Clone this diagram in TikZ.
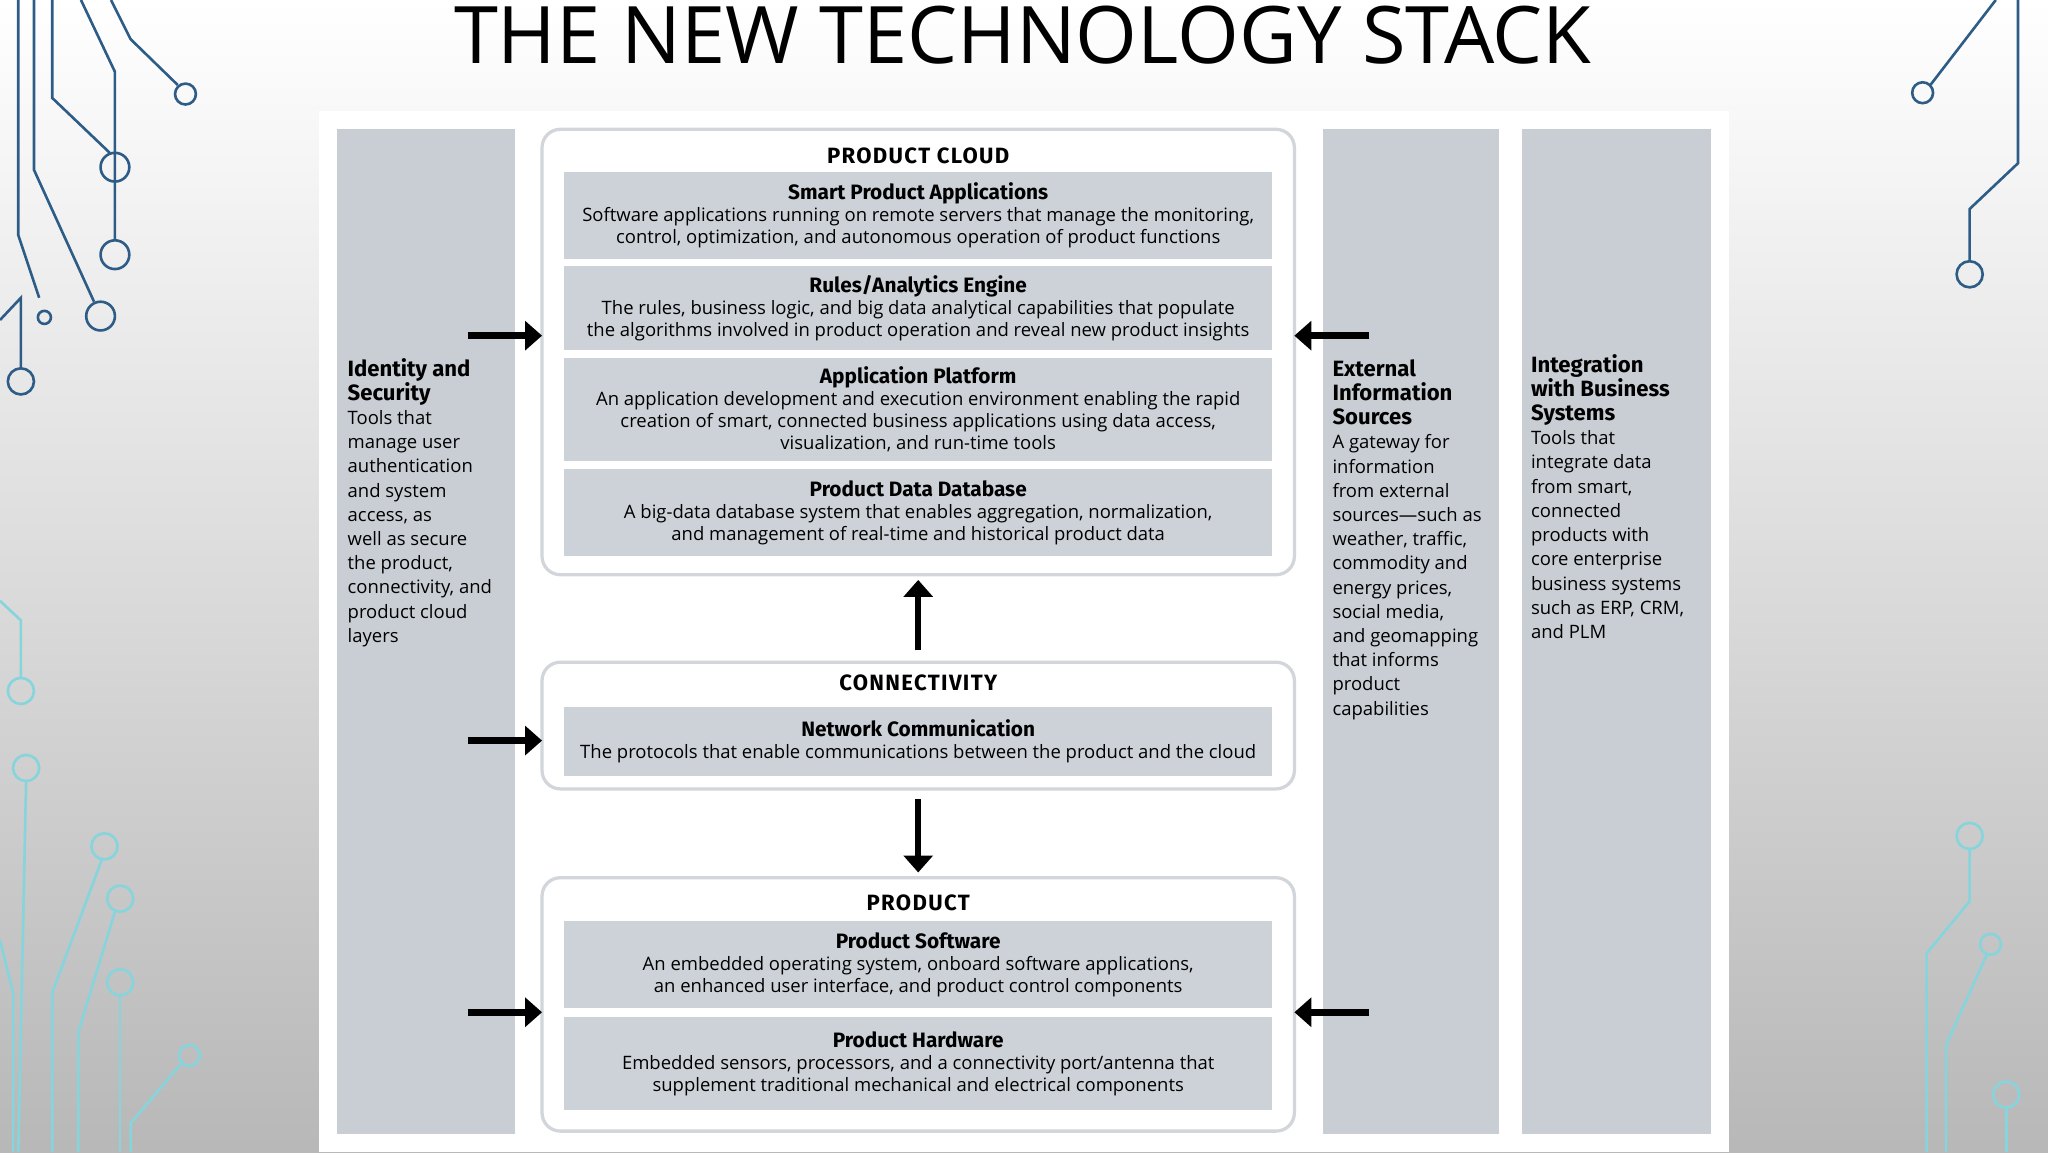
\documentclass[tikz,border=0pt]{standalone}
\usepackage{fontspec}
\setmainfont{Open Sans}
\newfontfamily\hfont{Fira Sans}
\usetikzlibrary{arrows.meta}
\definecolor{colgray}{HTML}{C9CED5}
\definecolor{boxgray}{HTML}{CDD2D9}
\definecolor{bordgray}{HTML}{D2D6DA}
\definecolor{darkc}{HTML}{2D5C86}
\definecolor{cyanc}{HTML}{86D4DC}
\newcommand{\colhd}[1]{{\hfont\bfseries\fontsize{17}{18.5}\selectfont #1}}
\newcommand{\ihd}[1]{{\hfont\bfseries\fontsize{16}{17}\selectfont #1}}
\newcommand{\ohd}[1]{{\hfont\bfseries\fontsize{17}{19}\selectfont\addfontfeature{LetterSpace=6} #1}}
\tikzset{
 ibox/.style={fill=boxgray,minimum width=542bp,inner sep=0pt,align=center,font=\fontsize{14.2}{17}\selectfont},
 obox/.style={draw=bordgray,line width=2.5bp,fill=white,rounded corners=14bp},
 col/.style={fill=colgray,draw=none},
 bigarrow/.style={line width=5bp,-{Triangle[length=13bp,width=22bp]}},
 ctext/.style={anchor=north west,align=left,inner sep=0pt,font=\fontsize{14.2}{18.6}\selectfont},
 circ/.style={line width=2bp},
}
\begin{document}
\begin{tikzpicture}[x=1bp,y=-1bp]
\useasboundingbox (0,0) rectangle (1568,882);
\shade[top color=white,bottom color=black!28] (0,0) rectangle (1568,882);
% circuits
\begin{scope}[draw=darkc,circ]
\draw (14,0)--(14,180)--(30,228); \draw (34,243) circle (5);
\draw (26,0)--(26,130)--(72,231); \draw (77,242) circle (11);
\draw (40,0)--(40,75)--(84,117); \draw (88,128) circle (11);
\draw (62,0)--(88,55)--(88,184); \draw (88,195) circle (11);
\draw (85,0)--(100,30)--(136,65); \draw (142,72) circle (8);
\draw (0,245)--(16,228)--(16,282); \draw (16,292) circle (10);
\draw (1528,0)--(1478,65); \draw (1472,71) circle (8);
\draw (1545,0)--(1545,125)--(1508,160)--(1508,199); \draw (1508,210) circle (10);
\end{scope}
\begin{scope}[draw=cyanc,circ]
\draw (0,460)--(16,475)--(16,519); \draw (16,529) circle (10);
\draw (20,598)--(14,882); \draw (20,588) circle (10);
\draw (78,658)--(40,760)--(40,882); \draw (80,648) circle (10);
\draw (88,698)--(60,790)--(60,882); \draw (92,688) circle (10);
\draw (92,762)--(92,882); \draw (92,752) circle (10);
\draw (139,814)--(100,860)--(100,882); \draw (145,808) circle (8);
\draw (0,720)--(10,760)--(10,882);
\draw (1508,650)--(1508,690)--(1475,730)--(1475,882); \draw (1508,640) circle (10);
\draw (1521,731)--(1490,800)--(1490,882); \draw (1524,723) circle (8);
\draw (1536,848)--(1536,882); \draw (1536,838) circle (10);
\end{scope}
\node (title) at (783,27) {\fontsize{61}{61}\selectfont THE NEW TECHNOLOGY STACK};
\fill[white] (244,85) rectangle (1324,882);
% columns
\fill[col] (258,99) rectangle (394,868);
\fill[col] (1013,99) rectangle (1148,868);
\fill[col] (1165,99) rectangle (1310,868);
\node[ctext] (ids) at (266,274) {\colhd{Identity and}\\\colhd{Security}\\Tools that\\manage user\\authentication\\and system\\access, as\\well as secure\\the product,\\connectivity, and\\product cloud\\layers};
\node[ctext] (ext) at (1020,275) {\colhd{External}\\\colhd{Information}\\\colhd{Sources}\\A gateway for\\information\\from external\\sources—such as\\weather, traffic,\\commodity and\\energy prices,\\social media,\\and geomapping\\that informs\\product\\capabilities};
\node[ctext] (integ) at (1172,271) {\colhd{Integration}\\\colhd{with Business}\\\colhd{Systems}\\Tools that\\integrate data\\from smart,\\connected\\products with\\core enterprise\\business systems\\such as ERP, CRM,\\and PLM};
% outer boxes
\draw[obox] (415,99) rectangle (991,440);
\node (cloud) at (703,119) {\ohd{PRODUCT CLOUD}};
\draw[obox] (415,507) rectangle (991,604);
\node (conn) at (703,523) {\ohd{CONNECTIVITY}};
\draw[obox] (415,672) rectangle (991,866);
\node (prod) at (703,691) {\ohd{PRODUCT}};
\coordinate (cloudbot) at (703,444);
\coordinate (prodtop) at (703,668);
% inner boxes
\node[ibox,minimum height=66bp] (spa) at (703,165) {\ihd{Smart Product Applications}\\Software applications running on remote servers that manage the monitoring,\\control, optimization, and autonomous operation of product functions};
\node[ibox,minimum height=64bp] (rae) at (703,236) {\ihd{Rules/Analytics Engine}\\The rules, business logic, and big data analytical capabilities that populate\\the algorithms involved in product operation and reveal new product insights};
\node[ibox,minimum height=79bp] (ap) at (703,313.5) {\ihd{Application Platform}\\An application development and execution environment enabling the rapid\\creation of smart, connected business applications using data access,\\visualization, and run-time tools};
\node[ibox,minimum height=67bp] (pdd) at (703,392.5) {\ihd{Product Data Database}\\A big-data database system that enables aggregation, normalization,\\and management of real-time and historical product data};
\node[ibox,minimum height=53bp] (nc) at (703,567.5) {\ihd{Network Communication}\\The protocols that enable communications between the product and the cloud};
\node[ibox,minimum height=67bp] (ps) at (703,738.5) {\ihd{Product Software}\\An embedded operating system, onboard software applications,\\an enhanced user interface, and product control components};
\node[ibox,minimum height=71bp] (ph) at (703,814.5) {\ihd{Product Hardware}\\Embedded sensors, processors, and a connectivity port/antenna that\\supplement traditional mechanical and electrical components};
% arrows
\coordinate (upstart) at (703,498);
\coordinate (downstart) at (703,612);
\draw[bigarrow] (upstart) -- (cloudbot);
\draw[bigarrow] (downstart) -- (prodtop);
\coordinate (l1) at (358,257); \coordinate (l1e) at (415,257);
\coordinate (l2) at (358,567); \coordinate (l2e) at (415,567);
\coordinate (l3) at (358,775); \coordinate (l3e) at (415,775);
\coordinate (r1) at (1048,257); \coordinate (r1e) at (991,257);
\coordinate (r3) at (1048,775); \coordinate (r3e) at (991,775);
\draw[bigarrow] (l1)--(l1e); \draw[bigarrow] (l2)--(l2e); \draw[bigarrow] (l3)--(l3e);
\draw[bigarrow] (r1)--(r1e); \draw[bigarrow] (r3)--(r3e);
\end{tikzpicture}
\end{document}
